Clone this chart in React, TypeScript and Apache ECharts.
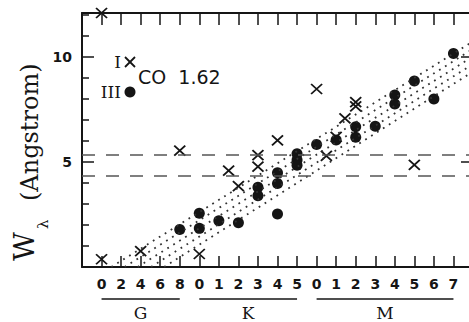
import React, { useEffect, useRef } from 'react';
import * as echarts from 'echarts';

// Spectral subtype tick labels (index 0..18)
const tickLabels = ['0', '2', '4', '6', '8', '0', '1', '2', '3', '4', '5', '0', '1', '2', '3', '4', '5', '6', '7'];
const groups = [
  { name: 'G', from: 0, to: 4 },
  { name: 'K', from: 5, to: 10 },
  { name: 'M', from: 11, to: 18 },
];
const yLabelValues = [5, 10];

// Luminosity class I (crosses): [subtype index, W]
const classI = [
  [0, 0.37], [0, 12.1], [2, 0.76], [4, 5.54], [5, 0.62], [6.5, 4.59], [7, 3.85],
  [8, 5.33], [8, 4.78], [9, 6.03], [11, 8.48], [11.5, 5.29], [12, 6.2], [12.45, 7.08],
  [13, 7.85], [13, 7.65], [16, 4.86],
];
// Luminosity class III (dots)
const classIII = [
  [4, 1.79], [5, 2.56], [5, 1.84], [6, 2.2], [7, 2.11], [8, 3.8], [8, 3.4],
  [9, 4.49], [9, 3.98], [9, 2.52], [10, 5.4], [10, 5.1], [10, 4.85], [11, 5.84],
  [12, 6.05], [13, 6.68], [13, 6.18], [14, 6.71], [15, 8.19], [15, 7.76], [16, 8.86],
  [17, 8.0], [18, 10.17],
];
const dashedLevels = [5.33, 4.33];
// Dotted band lines (start, end)
const bandLines = [
  [[0.5, 0], [19, 10.75]],
  [[1.18, 0], [19, 10.39]],
  [[1.85, 0], [19, 10.03]],
  [[2.53, 0], [19, 9.67]],
  [[3.2, 0], [19, 9.31]],
];

const INK = '#151515';
const CROSS = 'path://M0,0L10,10M10,0L0,10';

export default function App() {
  const ref = useRef<HTMLDivElement>(null);
  useEffect(() => {
    const chart = echarts.init(ref.current!, null, { renderer: 'svg' });
    const sans = 'DejaVu Sans';
    const serif = 'DejaVu Serif';
    const axisLine = { onZero: false, lineStyle: { color: INK, width: 2 } };
    const baseX = {
      type: 'value', min: -1, max: 19, interval: 1,
      axisLine,
      splitLine: { show: false },
    };
    const option: any = {
      animation: false,
      backgroundColor: '#ffffff',
      grid: { left: 82, top: 13, width: 393, height: 254 },
      xAxis: [
        {
          ...baseX, position: 'bottom',
          axisTick: { inside: true, length: 11, lineStyle: { color: INK, width: 1.5 } },
          axisLabel: {
            margin: 10, color: INK, fontSize: 14, fontWeight: 'bold', fontFamily: sans,
            formatter: (v: number) => (v >= 0 && v < tickLabels.length ? tickLabels[v] : ''),
          },
        },
        {
          ...baseX, position: 'top',
          axisTick: { inside: true, length: 12, lineStyle: { color: INK, width: 1.5 } },
          axisLabel: { show: false },
        },
      ],
      yAxis: [
        {
          type: 'value', min: 0, max: 12.1, interval: 5, position: 'left',
          axisLine,
          axisTick: { inside: true, length: 12, lineStyle: { color: INK, width: 1.5 } },
          minorTick: { show: true, splitNumber: 5, length: 7, lineStyle: { color: INK, width: 1.5 } },
          splitLine: { show: false },
          axisLabel: {
            margin: 10, color: INK, fontSize: 14, fontWeight: 'bold', fontFamily: sans,
            formatter: (v: number) => (yLabelValues.includes(v) ? String(v) : ''),
          },
        },
        {
          type: 'value', min: 0, max: 12.1, interval: 5, position: 'right',
          axisLine,
          axisTick: { inside: true, length: 12, lineStyle: { color: INK, width: 1.5 } },
          splitLine: { show: false },
          axisLabel: { show: false },
        },
      ],
      series: [
        ...bandLines.map((l) => ({
          type: 'line', data: l, symbol: 'none', silent: true,
          lineStyle: { color: '#333', width: 1.8, type: [1.8, 5.2] },
        })),
        {
          type: 'scatter', data: classIII, symbol: 'circle', symbolSize: 11,
          itemStyle: { color: INK, opacity: 1 },
          markLine: {
            silent: true, symbol: 'none', label: { show: false },
            lineStyle: { color: '#555', width: 1.5, type: [13, 11] },
            data: dashedLevels.map((v) => ({ yAxis: v })),
          },
        },
        {
          type: 'scatter', data: classI, symbol: CROSS, symbolSize: [11, 10],
          itemStyle: { color: 'none', borderColor: INK, borderWidth: 1.8, opacity: 1 },
        },
      ],
    };
    chart.setOption(option);

    const graphics: any[] = [];
    groups.forEach((g) => {
      const p0 = chart.convertToPixel({ gridIndex: 0 } as any, [g.from, 0]) as number[];
      const p1 = chart.convertToPixel({ gridIndex: 0 } as any, [g.to, 0]) as number[];
      graphics.push({
        type: 'line', shape: { x1: p0[0], y1: 299, x2: p1[0], y2: 299 },
        style: { stroke: INK, lineWidth: 1.5 },
      });
      graphics.push({
        type: 'text', x: (p0[0] + p1[0]) / 2, y: 313,
        style: { text: g.name, fill: INK, fontSize: 17, fontFamily: serif, align: 'center', verticalAlign: 'middle' },
      });
    });
    // axis title
    graphics.push({
      type: 'text', x: 24, y: 261, rotation: Math.PI / 2,
      style: { text: 'W', fill: INK, fontSize: 28, fontFamily: serif, align: 'left', verticalAlign: 'middle' },
    });
    graphics.push({
      type: 'text', x: 43, y: 229, rotation: Math.PI / 2,
      style: { text: 'λ', fill: INK, fontSize: 15, fontFamily: serif, align: 'left', verticalAlign: 'middle' },
    });
    graphics.push({
      type: 'text', x: 30, y: 201, rotation: Math.PI / 2,
      style: { text: '(Angstrom)', fill: INK, fontSize: 24, fontFamily: serif, align: 'left', verticalAlign: 'middle' },
    });
    // key
    graphics.push({
      type: 'text', x: 121, y: 62,
      style: { text: 'I', fill: INK, fontSize: 17, fontFamily: serif, align: 'right', verticalAlign: 'middle' },
    });
    graphics.push({
      type: 'polyline', shape: { points: [[125, 57], [135, 67]] }, style: { stroke: INK, lineWidth: 1.8 },
    });
    graphics.push({
      type: 'polyline', shape: { points: [[135, 57], [125, 67]] }, style: { stroke: INK, lineWidth: 1.8 },
    });
    graphics.push({
      type: 'text', x: 121, y: 92,
      style: { text: 'III', fill: INK, fontSize: 17, fontFamily: serif, align: 'right', verticalAlign: 'middle' },
    });
    graphics.push({ type: 'circle', shape: { cx: 130, cy: 92, r: 5.5 }, style: { fill: INK } });
    graphics.push({
      type: 'text', x: 138, y: 77,
      style: { text: 'CO  1.62', fill: INK, fontSize: 19, fontFamily: sans, align: 'left', verticalAlign: 'middle' },
    });
    chart.setOption({ graphic: graphics });
    return () => chart.dispose();
  }, []);
  return (
    <div style={{ position: 'fixed', left: 0, top: 0, width: 469, height: 322, overflow: 'hidden', background: '#fff' }}>
      <div ref={ref} style={{ width: 476, height: 322 }} />
    </div>
  );
}
